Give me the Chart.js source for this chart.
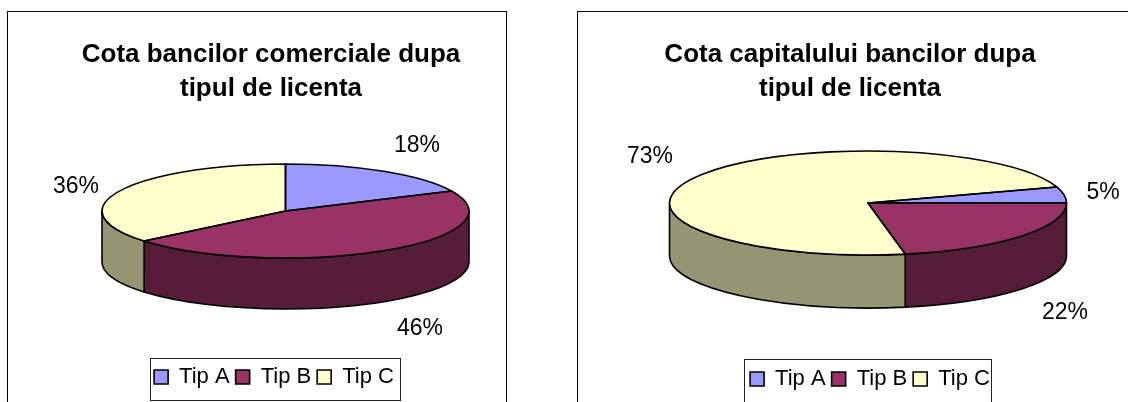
<!DOCTYPE html>
<html>
<head>
<meta charset="utf-8">
<script src="https://cdn.jsdelivr.net/npm/chart.js@4/dist/chart.umd.min.js"></script>
<style>
  html, body { margin: 0; background: #fff; overflow: hidden; }
  .frame { position: absolute; top: 11px; height: 391px; box-sizing: border-box; border: 1px solid #000; border-bottom: 0; }
  #frameA { left: 7px; width: 500px; }
  #frameB { left: 577px; width: 551px; border-right: 0; }
  canvas { display: block; filter: blur(0.35px); }
</style>
</head>
<body>
<div class="frame" id="frameA"><canvas id="licenseChart"></canvas></div>
<div class="frame" id="frameB"><canvas id="capitalChart"></canvas></div>
<script>
const categories = ['Tip A', 'Tip B', 'Tip C'];
const bankShare = [18, 46, 36];
const capitalShare = [5, 22, 73];
const sliceColors = ['#9999ff', '#993366', '#ffffcc'];
const wallColors = ['#6b6bb3', '#561c3a', '#959574'];

const FONT = '"Liberation Sans", Arial, sans-serif';

// Chart.js has no 3D pie, so the flat arcs get squashed to an ellipse and a wall is added under them
const tiltedPie = {
  id: 'tiltedPie',
  afterLayout(chart, args, opts) {
    // title and legend are not centred on the frame in the original
    chart.titleBlock.left += opts.titleShift;
    chart.titleBlock.right += opts.titleShift;
    const legend = chart.legend;
    const dx = opts.legendX - (legend.left + legend.right) / 2;
    legend.left += dx;
    legend.right += dx;
    const dy = opts.legendY - legend.top;
    legend.top += dy;
    legend.bottom += dy;
  },
  beforeDraw(chart, args, opts) {
    const ctx = chart.ctx;
    const b = opts.legendBox;
    ctx.save();
    ctx.strokeStyle = '#222';
    ctx.lineWidth = 1;
    ctx.strokeRect(b[0] + 0.5, b[1] + 0.5, b[2], b[3]);
    ctx.restore();
  },
  beforeDatasetsDraw(chart, args, opts) {
    const ctx = chart.ctx;
    const arcs = chart.getDatasetMeta(0).data;
    ctx.save();
    ctx.lineWidth = 1.6;
    ctx.strokeStyle = '#000';
    arcs.forEach((arc, i) => {
      // only the part of the slice between 0 and PI faces the viewer
      [0, 2 * Math.PI].forEach(base => {
        const a0 = Math.max(arc.startAngle, base);
        const a1 = Math.min(arc.endAngle, base + Math.PI);
        if (a1 <= a0) return;
        ctx.beginPath();
        ctx.ellipse(opts.cx, opts.cy + opts.depth, opts.rx, opts.ry, 0, a0, a1);
        ctx.ellipse(opts.cx, opts.cy, opts.rx, opts.ry, 0, a1, a0, true);
        ctx.closePath();
        ctx.fillStyle = wallColors[i];
        ctx.fill();
        ctx.stroke();
      });
    });
    ctx.restore();

    const r = arcs[0].outerRadius;
    ctx.save();
    ctx.translate(opts.cx, opts.cy);
    ctx.scale(opts.rx / r, opts.ry / r);
    ctx.translate(-arcs[0].x, -arcs[0].y);
  },
  afterDatasetsDraw(chart, args, opts) {
    const ctx = chart.ctx;
    ctx.restore();
    const arcs = chart.getDatasetMeta(0).data;
    ctx.save();
    ctx.lineWidth = 1.6;
    ctx.strokeStyle = '#000';
    ctx.lineJoin = 'round';
    arcs.forEach(arc => {
      ctx.beginPath();
      ctx.moveTo(opts.cx, opts.cy);
      ctx.ellipse(opts.cx, opts.cy, opts.rx, opts.ry, 0, arc.startAngle, arc.endAngle);
      ctx.closePath();
      ctx.stroke();
    });
    // percent labels
    ctx.fillStyle = '#000';
    ctx.font = '23px ' + FONT;
    ctx.textAlign = 'center';
    ctx.textBaseline = 'middle';
    chart.data.datasets[0].data.forEach((v, i) => {
      ctx.fillText(v + '%', opts.labelSpots[i][0], opts.labelSpots[i][1]);
    });
    ctx.restore();
  }
};

function makeChart(id, width, values, titleLines, rotation, geometry) {
  const canvas = document.getElementById(id);
  canvas.width = width;
  canvas.height = 390;
  return new Chart(canvas.getContext('2d'), {
    type: 'pie',
    data: {
      labels: categories,
      datasets: [{
        data: values,
        backgroundColor: sliceColors,
        borderWidth: 0,
        clip: false
      }]
    },
    plugins: [tiltedPie],
    options: {
      responsive: false,
      animation: false,
      rotation: rotation,
      plugins: {
        title: {
          display: true,
          text: titleLines,
          color: '#000',
          font: { family: FONT, size: 26, weight: 'bold', lineHeight: 1.31 },
          padding: { top: 26, bottom: 10 }
        },
        legend: {
          position: 'bottom',
          labels: {
            color: '#000',
            font: { family: FONT, size: 22 },
            boxWidth: 14,
            boxHeight: 14,
            padding: 6,
            generateLabels(chart) {
              return Chart.overrides.pie.plugins.legend.labels.generateLabels(chart)
                .map(item => ({ ...item, strokeStyle: '#000', lineWidth: 1.6 }));
            }
          }
        },
        tooltip: { enabled: false },
        tiltedPie: geometry
      }
    }
  });
}

// geometry is in canvas pixels: frame A starts at (8,12), frame B at (578,12)
makeChart('licenseChart', 498, bankShare,
  ['Cota bancilor comerciale dupa', 'tipul de licenta'], 0, {
    cx: 277.5, cy: 199, rx: 183.5, ry: 47, depth: 51,
    titleShift: 14, legendX: 266, legendY: 348,
    legendBox: [142, 346, 250, 42],
    labelSpots: [[409, 134], [412, 317], [68, 175]]
  });

makeChart('capitalChart', 550, capitalShare,
  ['Cota capitalului bancilor dupa', 'tipul de licenta'], 72, {
    cx: 290, cy: 191, rx: 198.5, ry: 52, depth: 53,
    titleShift: -3, legendX: 292, legendY: 350,
    legendBox: [166, 347, 247, 50],
    labelSpots: [[525, 181], [487, 301], [72, 145]]
  });
</script>
</body>
</html>
